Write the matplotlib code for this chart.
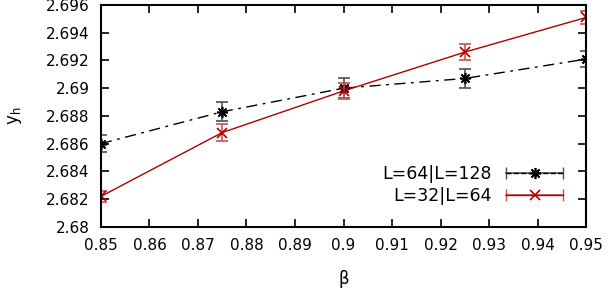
import matplotlib
matplotlib.use('Agg')
from matplotlib import pyplot as plt
from matplotlib.ticker import FuncFormatter, MultipleLocator
from matplotlib.legend_handler import HandlerBase
from matplotlib.lines import Line2D

beta = [0.85, 0.875, 0.9, 0.925, 0.95]

# L=64|L=128
y_big = [2.6860, 2.6883, 2.6900, 2.6907, 2.6921]
err_big = [0.0006, 0.0007, 0.0007, 0.0007, 0.0006]

# L=32|L=64
y_small = [2.6822, 2.6868, 2.6898, 2.6926, 2.6951]
err_small = [0.0004, 0.0006, 0.0006, 0.0006, 0.0005]

label_big = 'L=64|L=128'
label_small = 'L=32|L=64'

asterisk = (8, 2, 0)


class ErrLegend(HandlerBase):
    # gnuplot-like key: horizontal bar with end caps, line and point on top
    def __init__(self, ecolor, **kw):
        super().__init__(**kw)
        self.ecolor = ecolor

    def create_artists(self, legend, orig_handle, xdescent, ydescent,
                       width, height, fontsize, trans):
        y = height / 2 - ydescent
        bar = Line2D([-xdescent, width - xdescent], [y, y], color=self.ecolor,
                     lw=1.2, marker='|', markersize=8, markevery=[0, 1],
                     transform=trans)
        ln = Line2D([-xdescent, width - xdescent], [y, y],
                    color=orig_handle.get_color(), ls=orig_handle.get_linestyle(),
                    lw=orig_handle.get_linewidth(), transform=trans)
        mk = Line2D([width / 2 - xdescent], [y], ls='none',
                    marker=orig_handle.get_marker(), markersize=orig_handle.get_markersize(),
                    color=orig_handle.get_color(), mew=orig_handle.get_markeredgewidth(),
                    transform=trans)
        return [bar, ln, mk]


fig = plt.figure(figsize=(6.08, 2.92), dpi=100)
ax = fig.add_axes([0.166, 0.223, 0.798, 0.760])

ax.errorbar(beta, y_big, yerr=err_big, fmt='none', ecolor='#505050',
            elinewidth=1.2, capsize=4, capthick=1.2)
l1, = ax.plot(beta, y_big, color='black', ls=(0, (8, 4, 2, 4)), lw=1.0,
              marker=asterisk, markersize=8, mew=1.2, label=label_big)

ax.errorbar(beta, y_small, yerr=err_small, fmt='none', ecolor='#c85050',
            elinewidth=1.2, capsize=4, capthick=1.2)
l2, = ax.plot(beta, y_small, color='#b00000', ls='-', lw=1.0,
              marker='x', markersize=7, mew=1.2, label=label_small)

ax.set_xlim(0.85, 0.95)
ax.set_ylim(2.68, 2.696)
ax.xaxis.set_major_locator(MultipleLocator(0.01))
ax.yaxis.set_major_locator(MultipleLocator(0.002))
fmt = FuncFormatter(lambda v, p: '%g' % round(v, 4))
ax.xaxis.set_major_formatter(fmt)
ax.yaxis.set_major_formatter(fmt)
ax.tick_params(direction='in', length=6, width=1.2, top=True, right=True,
               labelsize=11, pad=8)
for s in ax.spines.values():
    s.set_linewidth(1.5)

ax.set_xlabel('β', fontsize=12, labelpad=12)
ax.set_ylabel(r'y$_\mathregular{h}$', fontsize=12, labelpad=16)

ax.legend(handles=[l1, l2], loc='lower right', bbox_to_anchor=(0.985, 0.03),
          frameon=False, markerfirst=False, fontsize=12.5, handlelength=3.3,
          labelspacing=0.2, handletextpad=0.8,
          handler_map={l1: ErrLegend('#505050'), l2: ErrLegend('#c85050')})

fig.savefig('out.png', dpi=100)
